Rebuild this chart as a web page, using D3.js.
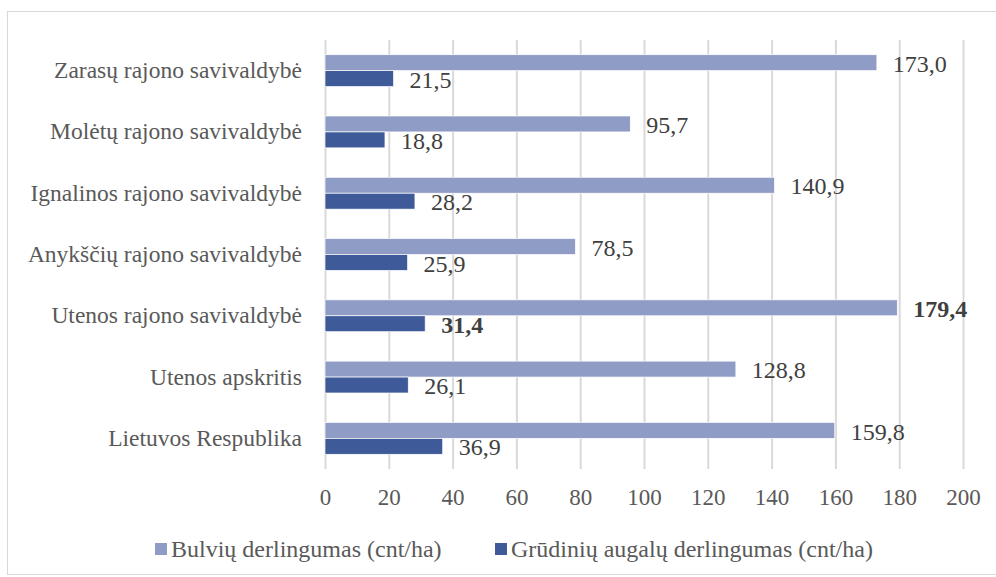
<!DOCTYPE html>
<html>
<head>
<meta charset="utf-8">
<script src="https://cdn.jsdelivr.net/npm/d3@7"></script>
<style>
  body { margin: 0; background: #fff; }
</style>
</head>
<body>
<script>
// data
var categories = ["Zarasų rajono savivaldybė", "Molėtų rajono savivaldybė", "Ignalinos rajono savivaldybė",
                  "Anykščių rajono savivaldybė", "Utenos rajono savivaldybė", "Utenos apskritis", "Lietuvos Respublika"];
var bulviu = [173.0, 95.7, 140.9, 78.5, 179.4, 128.8, 159.8];
var grudiniu = [21.5, 18.8, 28.2, 25.9, 31.4, 26.1, 36.9];
var seriesNames = ["Bulvių derlingumas (cnt/ha)", "Grūdinių augalų derlingumas (cnt/ha)"];
var xTicks = [0, 20, 40, 60, 80, 100, 120, 140, 160, 180, 200];
var boldCategory = "Utenos rajono savivaldybė";

var FONT = "'Liberation Serif', 'Times New Roman', serif";
var colors = ["#8f9cc5", "#3e5a99"];
var W = 996, H = 577;
var margin = {top: 40, right: 33, bottom: 108, left: 325};
var width = W - margin.left - margin.right,
    height = H - margin.top - margin.bottom;

var svg = d3.select("body").append("svg")
    .attr("width", W)
    .attr("height", H)
    .style("font-family", FONT);

// outer frame
svg.append("rect")
    .attr("x", 7.5).attr("y", 11.5)
    .attr("width", 995).attr("height", 563)
    .attr("fill", "none")
    .attr("stroke", "#d9d9d9");

var plot = svg.append("g")
    .attr("transform", "translate(" + margin.left + "," + margin.top + ")");

var xScale = d3.scaleLinear().domain([0, 200]).range([0, width]);
var yScale = d3.scaleBand().domain(categories).range([0, height]).paddingInner(0.48).paddingOuter(0.24);
var sub = d3.scaleBand().domain([0, 1]).range([0, yScale.bandwidth()]);

// gridlines
plot.append("g")
    .selectAll("line")
    .data(xTicks)
    .enter().append("line")
    .attr("x1", function(d) { return xScale(d) + 0.5; })
    .attr("x2", function(d) { return xScale(d) + 0.5; })
    .attr("y1", 0)
    .attr("y2", height)
    .attr("stroke", "#d9d9d9")
    .attr("stroke-width", 2);

// x axis
var xAxis = plot.append("g")
    .attr("transform", "translate(0," + height + ")")
    .call(d3.axisBottom(xScale).tickValues(xTicks).tickSize(0).tickPadding(20));
xAxis.attr("font-family", null).attr("font-size", null);
xAxis.select(".domain").remove();
xAxis.selectAll("text")
    .style("font-size", "23px")
    .style("font-family", FONT)
    .attr("fill", "#595959");

// y axis labels
var yAxis = plot.append("g")
    .call(d3.axisLeft(yScale).tickSize(0).tickPadding(23));
yAxis.attr("font-family", null).attr("font-size", null);
yAxis.select(".domain").remove();
yAxis.selectAll("text")
    .style("font-size", "23.5px")
    .style("font-family", FONT)
    .attr("fill", "#595959");

var fmt = function(v) { return v.toFixed(1).replace(".", ","); };

[bulviu, grudiniu].forEach(function(vals, s) {
    var g = plot.append("g");
    g.selectAll("rect")
        .data(vals)
        .enter().append("rect")
        .attr("x", xScale(0))
        .attr("y", function(d, i) { return yScale(categories[i]) + sub(s); })
        .attr("width", function(d) { return xScale(d) - xScale(0); })
        .attr("height", sub.bandwidth())
        .attr("fill", colors[s])
        .attr("stroke", "#fff")
        .attr("stroke-width", 0.7);

    g.selectAll("text")
        .data(vals)
        .enter().append("text")
        .attr("x", function(d) { return xScale(d) + 16; })
        .attr("y", function(d, i) { return yScale(categories[i]) + sub(s) + sub.bandwidth() / 2 + 1; })
        .attr("dy", "0.34em")
        .attr("fill", "#404040")
        .style("font-size", "24px")
        .attr("font-weight", function(d, i) { return categories[i] === boldCategory ? "bold" : "normal"; })
        .text(function(d) { return fmt(d); });
});

// legend
var legend = svg.append("g").attr("transform", "translate(0,549)");
var legX = [155, 495];
seriesNames.forEach(function(name, i) {
    legend.append("rect")
        .attr("x", legX[i]).attr("y", -6)
        .attr("width", 12).attr("height", 12)
        .attr("fill", colors[i]);
    legend.append("text")
        .attr("x", legX[i] + 16)
        .attr("y", 0)
        .attr("dy", "0.34em")
        .attr("fill", "#595959")
        .style("font-size", "24px")
        .text(name);
});
</script>
</body>
</html>
